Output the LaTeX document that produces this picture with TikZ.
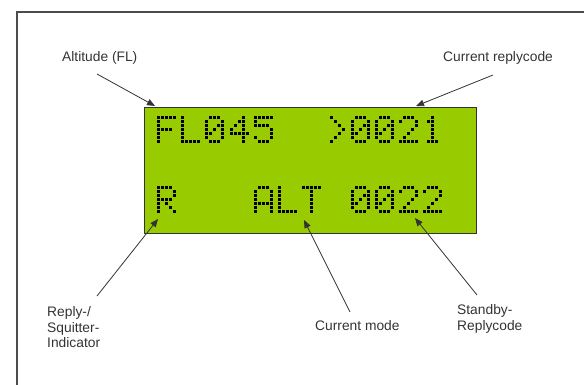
\documentclass[tikz,border=0pt]{standalone}
\usepackage{fontspec}
\setmainfont{Liberation Sans}
\usetikzlibrary{arrows.meta}

\definecolor{lcdgreen}{RGB}{153,204,0}

% 5x7 dot patterns, one number per row (bit 4 = left dot)
\def\lcdF{31,16,16,30,16,16,16}
\def\lcdL{16,16,16,16,16,16,31}
\def\lcdZero{14,17,19,21,25,17,14}
\def\lcdFour{2,6,10,18,31,2,2}
\def\lcdFive{31,16,30,1,1,17,14}
\def\lcdGt{8,4,2,1,2,4,8}
\def\lcdTwo{14,17,1,2,4,8,31}
\def\lcdOne{4,12,4,4,4,4,14}
\def\lcdR{30,17,17,30,20,18,17}
\def\lcdA{14,17,17,17,31,17,17}
\def\lcdT{31,4,4,4,4,4,4}

% one character: x, y of its top left corner, pattern
\newcommand{\lcdglyph}[3]{%
  \edef\glyphrows{#3}%
  \foreach \v [count=\r from 0] in \glyphrows {
    \foreach \i in {0,...,4} {
      \pgfmathtruncatemacro{\on}{mod(floor(\v/2^(4-\i)),2)}
      \ifnum\on=1
        \fill[lcddot] ({#1+\i*4},{#2+\r*4}) rectangle +(3,3);
      \fi
    }
  }%
}

\begin{document}
\begin{tikzpicture}[
  x=1pt, y=-1pt,
  lbl/.style={font=\fontsize{13.8}{15.5}\selectfont, text=black!80, inner sep=0pt, align=left},
  ptr/.style={-{Triangle[length=8pt,width=6.5pt]}, line width=0.8pt, draw=black!80},
  lcddot/.style={fill=black},
]
\useasboundingbox (0,0) rectangle (584,385);
\clip (0,0) rectangle (584,385);
% Frame
\draw[gray!60!black, line width=1.3pt] (17,400) -- (17,12) -- (600,12);
% Display
\draw[fill=lcdgreen, draw=black!80, line width=0.9pt] (144,107) rectangle (476,233);
\def\pitch{24.2}
\foreach \c/\g in {0/\lcdF,1/\lcdL,2/\lcdZero,3/\lcdFour,4/\lcdFive,7/\lcdGt,8/\lcdZero,9/\lcdZero,10/\lcdTwo,11/\lcdOne} {
  \lcdglyph{157+\c*\pitch}{116}{\g}
}
\foreach \c/\g in {0/\lcdR,4/\lcdA,5/\lcdL,6/\lcdT,8/\lcdZero,9/\lcdZero,10/\lcdTwo,11/\lcdTwo} {
  \lcdglyph{157+\c*\pitch}{186}{\g}
}
% Labels
\node[lbl, anchor=west] (alt) at (62,58) {Altitude (FL)};
\node[lbl, anchor=west] (curcode) at (443,58) {Current replycode};
\node[lbl, anchor=west] (squit) at (47,327.5) {Reply-/\\Squitter-\\Indicator};
\node[lbl, anchor=west] (mode) at (315,326) {Current mode};
\node[lbl, anchor=west] (stby) at (457,319) {Standby-\\Replycode};
% Pointers
\coordinate (altS) at (97,74);    \coordinate (altE) at (155,106);
\coordinate (curS) at (493,75);   \coordinate (curE) at (416,106);
\coordinate (sqS) at (97,296);    \coordinate (sqE) at (158,219);
\coordinate (modeS) at (350,312); \coordinate (modeE) at (304,220);
\coordinate (stbyS) at (477,295); \coordinate (stbyE) at (415,218);
\draw[ptr] (altS) -- (altE);
\draw[ptr] (curS) -- (curE);
\draw[ptr] (sqS) -- (sqE);
\draw[ptr] (modeS) -- (modeE);
\draw[ptr] (stbyS) -- (stbyE);
\end{tikzpicture}
\end{document}
